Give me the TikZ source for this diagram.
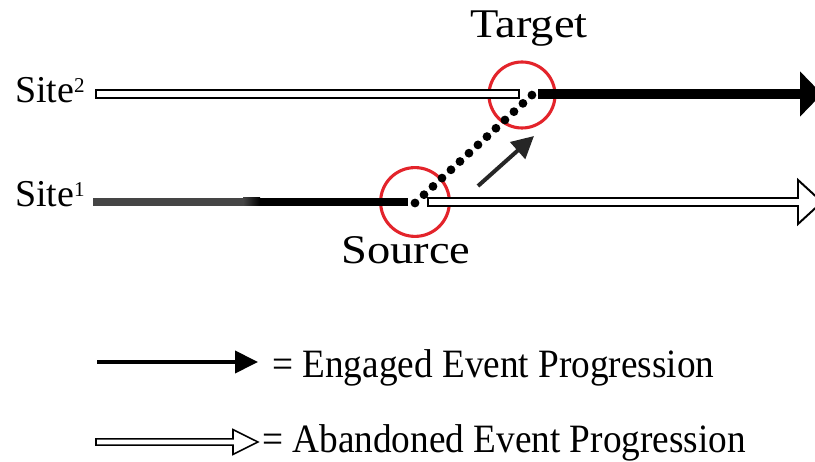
\documentclass[tikz,border=0pt]{standalone}
\usepackage{fontspec}
\setmainfont{Liberation Serif}
\usetikzlibrary{arrows.meta,calc}
\definecolor{ringred}{HTML}{E3242B}
\definecolor{fadegray}{HTML}{454545}
\newcommand{\sitenum}[1]{\raisebox{7.5pt}{\fontsize{15}{15}\selectfont #1}}

\begin{document}
\begin{tikzpicture}[
                  ring/.style={circle, draw=ringred, line width=2.2pt, inner sep=0pt},
                  hollowbar/.style={draw=black, fill=white, line width=1.4pt, line join=miter},
                  engaged/.style={line width=#1, -{Triangle[length=0.55cm, width=1.1cm]}},
                  tag/.style={inner sep=0pt, anchor=base, xscale=1.14, transform shape,
                              font=\fontsize{29}{32}\selectfont},
                  sitetext/.style={inner sep=0pt, anchor=base west, font=\fontsize{27}{30}\selectfont},
                  keytext/.style={inner sep=0pt, anchor=base west, yscale=1.08, transform shape,
                                  font=\fontsize{26.5}{30}\selectfont}]
\useasboundingbox (0,0) rectangle (20.375,11.55);
\node[sitetext] (site2) at (0.37,8.975) {Site\sitenum{2}};
\node[sitetext] (site1) at (0.37,6.375) {Site\sitenum{1}};
\node[ring, minimum size=1.65cm] (tgt) at (13.05,9.175) {};
\node[ring, minimum size=1.72cm] (src) at (10.375,6.5) {};
\node[tag] (tgtname) at (13.225,10.6) {Target};
\node[tag] (srcname) at (10.15,4.95) {Source};
\coordinate (s2start) at (2.4,9.2);   \coordinate (s2stop) at (12.975,9.2);
\coordinate (s2go) at (13.45,9.2);    \coordinate (s2end) at (20.55,9.2);
\coordinate (s1start) at (2.325,6.5); \coordinate (s1stop) at (10.2,6.5);
\coordinate (s1drop) at (10.7,6.5);   \coordinate (s1end) at (20.55,6.5);
\coordinate (jumpfrom) at (10.375,6.475); \coordinate (jumpto) at (13.3,9.175);
% site 1: engaged until the source
\fill[fadegray] ($(s1start)+(0,-0.1)$) rectangle (6.075,6.6);
\shade[left color=fadegray, right color=black] (6.075,6.4) rectangle (6.5,6.6);
\fill[black] (6.5,6.4) rectangle ($(s1stop)+(0,0.1)$);
\draw[hollowbar] ($(s1drop)+(0,-0.1)$) -- ($(s1end)+(-0.6,-0.1)$) -- ++(0,-0.45)
   -- (s1end) -- ($(s1end)+(-0.6,0.55)$) -- ++(0,-0.45) -- ($(s1drop)+(0,0.1)$) -- cycle;
% site 2: abandoned until the target
\draw[hollowbar] ($(s2start)+(0,-0.11)$) rectangle ($(s2stop)+(0,0.11)$);
\draw[engaged=0.25cm] (s2go) -- (s2end);
\draw[line width=0.22cm, line cap=round, dash pattern=on 0pt off 0.306cm] (jumpfrom) -- (jumpto);
\coordinate (hinttail) at (11.95,6.9); \coordinate (hinttip) at (13.35,8.15);
\draw[line width=0.1cm, color=black!85, -{Triangle[length=0.55cm, width=0.55cm]}] (hinttail) -- (hinttip);
% key
\coordinate (k1a) at (2.425,2.5); \coordinate (k1b) at (6.45,2.5);
\draw[line width=0.1cm, -{Triangle[length=0.575cm, width=0.55cm]}] (k1a) -- (k1b);
\node[keytext] (k1) at (6.8,2.1) {= Engaged Event Progression};
\coordinate (k2a) at (2.4,0.5); \coordinate (k2b) at (6.45,0.5);
\draw[hollowbar, line width=1.1pt] ($(k2a)+(0,-0.08)$) -- ($(k2b)+(-0.625,-0.08)$) -- ++(0,-0.23)
   -- (k2b) -- ($(k2b)+(-0.625,0.31)$) -- ++(0,-0.23) -- ($(k2a)+(0,0.08)$) -- cycle;
\node[keytext] (k2) at (6.55,0.23) {= Abandoned Event Progression};
\end{tikzpicture}
\end{document}
